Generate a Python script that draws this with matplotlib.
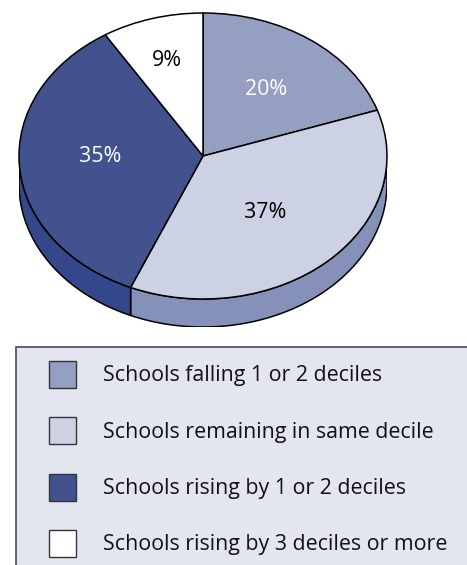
import matplotlib
matplotlib.use("Agg")
import matplotlib.pyplot as plt
from matplotlib.patches import Rectangle
import numpy as np

plt.rcParams['font.family'] = ['Open Sans', 'DejaVu Sans']

labels = ['Schools falling 1 or 2 deciles', 'Schools remaining in same decile',
          'Schools rising by 1 or 2 deciles', 'Schools rising by 3 deciles or more']
shares = [20, 37, 35, 9]
share_text = ['20%', '37%', '35%', '9%']

colors = ['#949fc1', '#ccd2e3', '#41528f', '#ffffff']
side_colors = ['#949fc1', '#8691ba', '#33478a', '#ffffff']
text_colors = ['white', 'black', 'white', 'black']
label_r = [0.59, 0.50, 0.56, 0.71]
label_dy = [2, 4, -6, 2]  # px, nudges for the percent labels

W, H = 467, 565
fig = plt.figure(figsize=(W / 100, H / 100), dpi=100)

# page axes in pixels, used for the legend
bg = fig.add_axes([0, 0, 1, 1])
bg.set_xlim(0, W)
bg.set_ylim(H, 0)
bg.axis('off')

bg.add_patch(Rectangle((16, 347), W, H, facecolor='#e3e6f0', edgecolor='#4a4a4f', lw=1.2))
for i in range(len(labels)):
    y = 374.5 + 56.3 * i
    bg.add_patch(Rectangle((48.5, y - 13.5), 27, 27, facecolor=colors[i], edgecolor='#333338', lw=1))
    bg.text(103, y + 1.5, labels[i], fontsize=15.4, va='center', ha='left', color='#111111')

# pie axes: radius 1 is 184 x 143 px, centre at (203,156)
rx, ry, depth = 184, 143, 28
ax = fig.add_axes([(203 - rx) / W, 1 - (156 + ry + depth) / H, 2 * rx / W, (2 * ry + depth) / H])
ax.axis('off')

# side of the disc, from the same shares
edges = np.cumsum([0] + shares) / sum(shares) * 2 * np.pi
d = depth / ry
for i in range(len(shares)):
    a0 = max(edges[i], np.pi / 2)
    a1 = min(edges[i + 1], 3 * np.pi / 2)
    if a1 <= a0:
        continue
    t = np.linspace(a0, a1, 120)
    x = np.sin(t)
    y = np.cos(t)
    ax.fill(np.r_[x, x[::-1]], np.r_[y, y[::-1] - d], facecolor=side_colors[i],
            edgecolor='black', lw=1.1, zorder=1)

wedges, texts = ax.pie(shares, colors=colors, startangle=90, counterclock=False, radius=1,
                       center=(0, 0), wedgeprops={'edgecolor': 'black', 'linewidth': 1.1, 'zorder': 2})
ax.set_aspect('auto')
ax.set_xlim(-1, 1)
ax.set_ylim(-1 - d, 1)

for i in range(len(shares)):
    mid = (edges[i] + edges[i + 1]) / 2
    ax.text(label_r[i] * np.sin(mid), label_r[i] * np.cos(mid) - label_dy[i] / ry, share_text[i],
            color=text_colors[i], fontsize=15.4, ha='center', va='center', zorder=3)

fig.savefig('out.png', dpi=100)
